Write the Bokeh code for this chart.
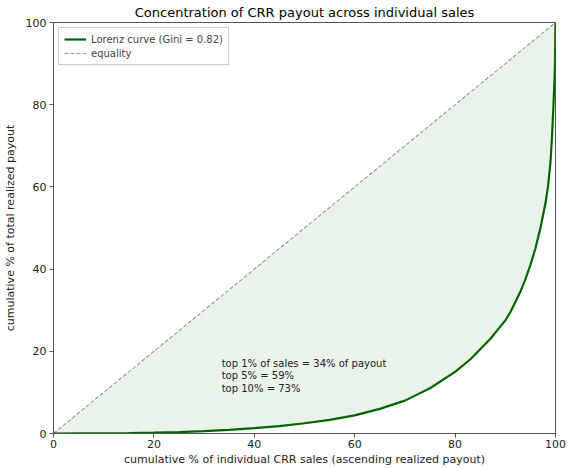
from bokeh.plotting import figure
from bokeh.models import Range1d, Legend, LegendItem, ColumnDataSource
from bokeh.embed import file_html
from bokeh.resources import INLINE
from bokeh.core.properties import value

# cumulative % of sales (x) and cumulative % of payout (y)
sales_pct = [0, 5, 10, 15, 20, 25, 30, 35, 40, 45, 50, 55, 60, 65, 70, 75, 80, 83, 85, 87, 89, 90, 91, 92, 93, 94, 95, 96, 97, 98, 98.5, 99, 99.3, 99.6, 99.8, 99.9, 100]
payout_pct = [0, 0.02, 0.05, 0.1, 0.2, 0.35, 0.6, 0.9, 1.3, 1.8, 2.5, 3.3, 4.4, 6.0, 8.0, 11.0, 15.0, 18.0, 20.5, 23.0, 26.0, 27.5, 29.5, 32.0, 34.5, 37.5, 41.0, 45.0, 50.0, 56.0, 60.0, 66.0, 72.0, 80.0, 86.0, 90.0, 100.0]
equality = [0, 100]
gini = 0.82
notes = ["top 1% of sales = 34% of payout", "top 5% = 59%", "top 10% = 73%"]
note_x = [33.5, 33.5, 33.5]
note_y = [17.0, 14.0, 11.0]
ticks = [0, 20, 40, 60, 80, 100]
x_title = "cumulative % of individual CRR sales (ascending realized payout)"
y_title = "cumulative % of total realized payout"

FONT = "DejaVu Sans"

p = figure(width=568, height=468, output_backend="svg", toolbar_location=None,
           x_range=Range1d(0, 100), y_range=Range1d(0, 100),
           min_border_left=40, min_border_right=13, min_border_top=0, min_border_bottom=0,
           title="Concentration of CRR payout across individual sales")
p.title.text_font = FONT
p.title.text_font_size = "13px"
p.title.text_font_style = "normal"
p.title.align = "center"
p.title.text_color = "#000000"
p.title.standoff = 5
p.title.offset = 0

p.grid.visible = False
p.outline_line_color = "#555555"
p.outline_line_width = 1
p.background_fill_color = "white"

src = ColumnDataSource(dict(x=sales_pct, y=payout_pct, eq=sales_pct))
p.varea(x="x", y1="y", y2="eq", source=src, fill_color="#2e8b2e", fill_alpha=0.1)
eq_r = p.line(equality, equality, line_color="#999999", line_width=1.1, line_dash="4 2")
lz_r = p.line("x", "y", source=src, line_color="#006400", line_width=2.2)

p.text(x=note_x, y=note_y, text=notes, text_font=value(FONT), text_font_size="10px",
       text_baseline="middle", text_align="left", text_color="#222222")

for ax in (p.xaxis[0], p.yaxis[0]):
    ax.ticker = ticks
    ax.minor_tick_line_color = None
    ax.major_tick_out = 4
    ax.major_tick_in = 0
    ax.major_label_standoff = 3
    ax.axis_line_color = "#555555"
    ax.major_tick_line_color = "#555555"
    ax.major_label_text_font = FONT
    ax.major_label_text_font_size = "11px"
    ax.major_label_text_color = "#222222"
    ax.axis_label_text_font = FONT
    ax.axis_label_text_font_size = "11px"
    ax.axis_label_text_font_style = "normal"
    ax.axis_label_text_color = "#222222"

p.xaxis.axis_label = x_title
p.yaxis.axis_label = y_title
p.xaxis.major_label_standoff = 2
p.xaxis.axis_label_standoff = 2
p.yaxis.axis_label_standoff = 6

legend = Legend(items=[LegendItem(label=f"Lorenz curve (Gini = {gini:.2f})", renderers=[lz_r]),
                       LegendItem(label="equality", renderers=[eq_r])],
                location="top_left")
legend.label_text_font = FONT
legend.label_text_font_size = "10px"
legend.glyph_width = 22
legend.glyph_height = 12
legend.spacing = 2
legend.padding = 5
legend.margin = 5
legend.label_height = 12
legend.border_line_color = "#cccccc"
legend.border_line_alpha = 1
legend.background_fill_alpha = 0.9
p.add_layout(legend)

open("out.html", "w").write(file_html(p, INLINE))
